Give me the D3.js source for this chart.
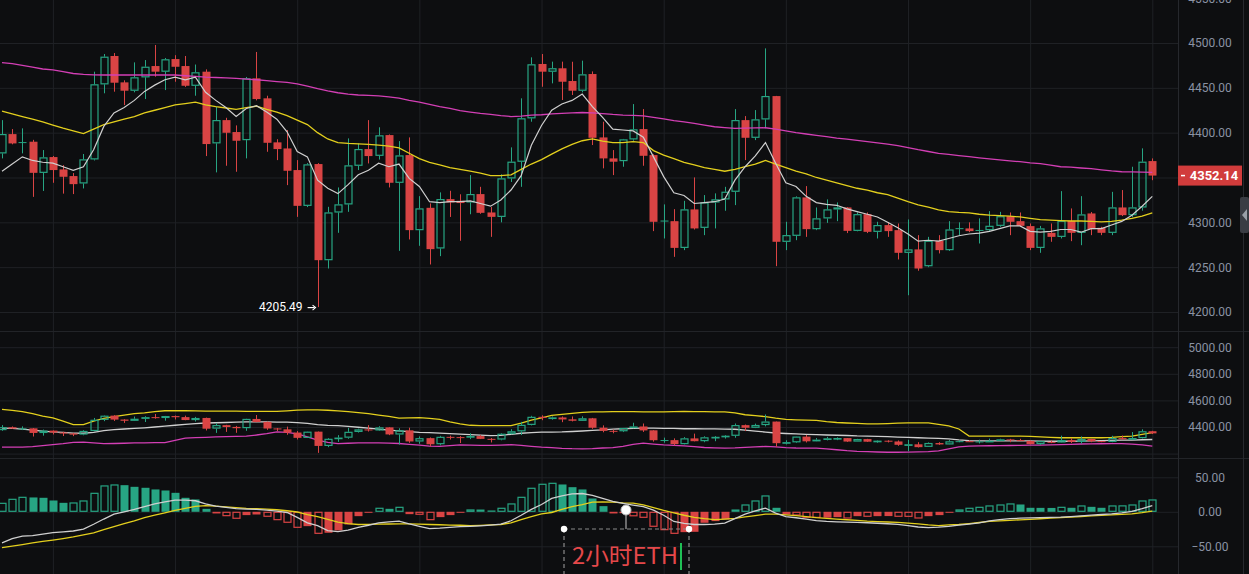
<!DOCTYPE html>
<html><head><meta charset="utf-8">
<script src="https://cdn.jsdelivr.net/npm/d3@7"></script>
<style>html,body{margin:0;padding:0;background:#0d0e10;overflow:hidden}svg{display:block}</style>
</head><body><svg id="c" width="1249" height="574"></svg>
<script>
// ---- DATA ----
// candles: [open, high, low, close]
const candles = [
[4376.9,4414,4371.3,4398.4],[4398.4,4404,4387,4388],[4389.5,4404.8,4376.9,4388.5],[4389.9,4392,4328.4,4355.2],[4355.2,4380.6,4335,4372.4],
[4372.8,4374,4344.1,4358.3],[4359,4363.8,4332,4350.8],[4351.6,4355,4331.5,4342.6],[4343.4,4376.2,4337.8,4370.2],[4370.2,4468,4369,4453.9],
[4453.9,4487.7,4443.9,4484.7],[4485.5,4488.8,4445.7,4455.7],[4456.1,4458.4,4430.8,4446.8],[4446.8,4478.4,4445,4461.7],[4461.7,4481,4437.5,4473.5],
[4474.3,4497.8,4462.4,4468],[4468,4483.3,4447.5,4481.8],[4482.1,4486.4,4456.8,4473.5],[4474.3,4485.5,4451,4452.3],[4452.3,4476,4441.2,4467.3],
[4468,4470.6,4373.9,4387.3],[4388.1,4428.9,4355.7,4414],[4414,4416.6,4363.1,4399.9],[4400.7,4408.1,4356.4,4391],[4391.7,4462.1,4371.3,4460.6],
[4460.6,4490,4436,4437.5],[4438.3,4441.2,4378.7,4388.7],[4389.2,4392.7,4369.4,4381.7],[4382.4,4402.9,4341.5,4357.5],[4358.3,4369.4,4306.1,4318.4],
[4318.4,4366,4317,4364.6],[4365,4366,4205.49,4257.8],[4257.8,4317.3,4248.5,4311],[4311,4338.9,4288.3,4320],[4320,4393.6,4311.7,4363.5],
[4363.1,4388,4358.3,4381.7],[4381.7,4414,4365.7,4373.9],[4374.2,4406,4370,4397],[4397.3,4398,4338.9,4344.1],[4344.1,4390.6,4268.2,4374.6],
[4375,4394.7,4280.9,4291.3],[4291.3,4329.2,4273.8,4315.5],[4316.2,4321.1,4253,4270.1],[4270.9,4333.4,4262.3,4325.9],[4325.9,4335.2,4306,4322.2],
[4324,4331.3,4279.4,4321.5],[4322.2,4352.7,4309,4331.5],[4331.5,4339.6,4309.5,4310.6],[4311,4317,4283.8,4306.1],[4306.1,4353.5,4300,4349],
[4349,4383.6,4345,4367.6],[4367.6,4438.3,4339.6,4416],[4416,4484,4412.2,4476.2],[4476.6,4487.7,4451.2,4468],[4468,4479.2,4455,4471.8],
[4471.8,4479.2,4436.4,4456.8],[4457.6,4479.1,4442,4446.8],[4446.8,4480.3,4445,4465],[4465.4,4468.3,4386.2,4394.3],[4394.7,4412.2,4360.2,4371.3],
[4371.3,4380.6,4352.7,4367.6],[4368.3,4393,4362,4392.5],[4392.5,4431.9,4391,4403.7],[4404,4426.3,4363.1,4374.2],[4375,4376,4290.2,4300.6],
[4302,4320,4282,4301],[4301.3,4314.7,4261.5,4271.5],[4271.5,4324,4269,4314.4],[4314.4,4350.1,4292,4293.2],[4293.9,4330.4,4285.7,4322.2],
[4322.2,4332.3,4293.2,4325.6],[4325.6,4339.6,4312.9,4334.1],[4334.1,4426.3,4319.2,4414],[4414,4418.5,4369.4,4394.3],[4394.3,4425.2,4391.7,4414.8],
[4414.8,4494,4404.8,4440.8],[4440.8,4441,4251.1,4278.3],[4278.3,4300.6,4269,4285.7],[4285,4329,4280.1,4327.8],[4327.8,4340.4,4283.8,4292.4],
[4292.4,4316.6,4291.3,4304.4],[4304.4,4325.6,4299.4,4314.4],[4314.4,4322.2,4301.3,4316.6],[4316.6,4317,4288,4290.5],[4290.5,4311,4290,4309.1],
[4309.1,4311,4288,4289.4],[4289.4,4300.6,4282,4296.9],[4296.9,4300,4283.8,4290.2],[4291.3,4298.7,4258.6,4266],[4266,4303.2,4218.7,4269.8],
[4269.8,4285.7,4246,4248.5],[4251.1,4283.8,4250,4279.4],[4279.4,4285.7,4265.3,4269],[4269,4301.3,4268,4292],[4293.5,4300,4285.7,4293],
[4293.2,4300,4289,4290.2],[4291.5,4304.4,4276.4,4291],[4291.3,4312.5,4290,4296.1],[4296.1,4311.7,4295,4306.8],[4306.8,4311,4285.7,4300.6],
[4301.3,4311,4295,4296.1],[4295.8,4298.7,4269,4271.5],[4271.5,4296,4266,4293.2],[4288.3,4298.7,4278.3,4283.8],[4283.8,4334.8,4282,4301.7],
[4301.7,4315.5,4279,4288.3],[4288.3,4329.2,4274.5,4308.8],[4309.9,4311.5,4285.7,4292.4],[4293.9,4295,4285.7,4288.3],[4288.3,4334,4285.7,4316.6],
[4316.6,4336,4307,4308],[4308,4362,4306,4316.6],[4316.6,4382.5,4313,4367.6],[4368.3,4371.3,4347,4352.14]
];
const maShort = [4357,4365,4373,4369,4367,4366,4362,4358,4362,4381,4407,4422,4428,4436,4446,4453,4459,4462,4459,4462,
4445,4436,4428,4418,4427,4430,4423,4415,4401,4379,4373,4347,4338,4332,4342,4353,4358,4366,4362,4365,
4349,4340,4323,4322,4323,4323,4324,4321,4318,4325,4336,4352,4386,4408,4425,4432,4436,4443,4429,4417,
4404,4403,4402,4395,4373,4351,4333,4330,4321,4322,4323,4326,4347,4362,4374,4389,4366,4344,4340,4329,
4322,4320,4319,4315,4312,4309,4306,4300,4294,4287,4279,4280,4279,4282,4285,4287,4288,4290,4293,4296,
4296,4290,4289,4290,4292,4292,4289,4293,4293,4297,4301,4308,4318,4329];
const maMid = [4424,4421,4418,4415,4412,4408.5,4405,4402,4399,4404,4409,4412,4415,4418,4422,4425,4428,4431,4432.5,4434,
4431,4429,4427.5,4426,4428,4429.5,4426,4423,4419,4414,4409,4400,4393,4389,4388,4387.5,4387,4386,4385,4383,
4377,4371,4367,4364,4361,4359,4357,4355,4352,4352,4353,4359,4365,4370,4376,4382,4387,4391,4393,4390.5,
4389,4389,4390,4389,4380,4375,4371,4367,4364,4361,4359,4357,4359,4362,4365,4369,4365,4361,4357,4354,
4350,4347,4344,4341,4338,4336,4333,4331,4327,4323,4319.5,4317,4314,4312,4311,4310.5,4309,4308,4307.5,4307,
4306,4304.5,4303,4302.5,4302,4301.5,4301.5,4301,4300.5,4301,4302.5,4304.5,4307,4310.5];
const maLong = [4478,4477,4475,4473,4471,4470,4468,4466,4465,4464.5,4464.3,4464.3,4464.3,4464.3,4464.3,4464.3,4464.3,4464.3,4463.5,4462.8,
4462,4461.5,4461,4460.5,4459.7,4459,4458,4457,4456,4454.5,4452,4449,4446.5,4444.5,4443,4442,4441.5,4441,4440,4438.5,
4436,4434,4431.5,4429,4427,4424.5,4423,4421.5,4420.5,4419,4418,4418.5,4419.5,4420,4421,4421.5,4422,4422.5,4422,4421.3,
4420.3,4419.6,4419.2,4418.8,4417,4415.3,4413.5,4412,4410.3,4408.4,4406.6,4405.6,4404.8,4405,4405.3,4405.5,4404,4402,4400,4398.5,
4397,4395.5,4394,4392.8,4391.3,4390,4388.5,4387.2,4385.5,4383.3,4381,4379,4377,4375.8,4374.5,4373.2,4372,4370.8,4369.7,4368.6,
4367.6,4366.3,4365.5,4363.8,4362,4361.5,4360.6,4359.8,4358.5,4357.3,4356.4,4356.2,4356,4355.7];
const bollUpper = [4533,4525,4516,4500,4482,4469,4445,4418,4418,4445,4465,4478,4490,4500,4506,4515,4522,4522,4522,4521,
4520,4520,4519,4519,4518,4518,4517,4517,4522,4527,4529,4529,4526,4522,4516,4508,4500,4490,4480,4466,
4468,4470,4465,4457,4438,4424,4413,4410,4410,4410,4410,4430,4452,4468,4488,4495,4502,4510,4514,4514,
4515,4516,4515,4514,4514,4514,4516,4517,4516,4515,4514,4514,4506,4492,4485,4478,4466,4457,4454,4452,
4450,4441,4434,4430,4427,4424,4423,4426,4429,4431,4431,4431,4420,4408,4385,4332,4332,4332,4332,4332,
4332,4330,4326,4322,4319,4319,4319,4319,4319,4322,4327,4332,4345,4358];
const bollMid = [4392,4389,4384,4377,4369,4364,4359,4354,4353,4360,4373,4380,4385,4389,4394,4400,4406,4413,4420,4426,
4430,4432,4434,4436,4438,4439,4438,4437,4436,4433,4428,4418,4412,4410,4404,4398,4392,4384,4376,4371,
4365,4360,4357,4354,4350,4347,4343,4339,4335,4337,4345,4353,4358,4361,4362,4363,4366,4370,4374,4378,
4384,4387,4390,4391,4391,4390,4389,4387,4387,4386,4386,4384,4383,4376,4369,4362,4355,4351,4348,4345,
4342,4340,4338,4336,4333,4332,4330,4327,4324,4322,4319,4316,4314,4310,4303,4298,4296,4296,4296,4296,
4296,4295,4294,4293,4293,4293,4294,4296,4298,4299,4301,4302,4304,4306];
const bollLower = [4249,4249,4249,4252,4260,4267,4275,4285,4287,4281,4275,4276,4278,4280,4281,4282,4283,4300,4316,4320,
4322,4325,4327,4330,4332,4340,4350,4364,4360,4348,4325,4301,4285,4275,4278,4280,4280,4280,4279,4276,
4270,4264,4256,4254,4260,4266,4264,4262,4262,4264,4267,4262,4255,4249,4245,4240,4237,4236,4238,4242,
4245,4255,4270,4278,4272,4266,4262,4258,4252,4246,4243,4241,4243,4247,4251,4254,4250,4245,4242,4241,
4241,4236,4229,4222,4217,4215,4212,4210,4210,4211,4213,4215,4220,4235,4250,4256,4258,4259,4260,4261,
4262,4263,4264,4266,4268,4270,4272,4273,4274,4275,4275,4272,4265,4256];
const macdDif = [-45,-39,-35.2,-34.4,-32.5,-30.3,-29,-27.8,-25,-18,-10.5,-3.5,0,3.5,7.5,11.5,14.3,16.8,16.8,16,
11.5,8.3,6.3,4.5,3.9,3.5,2.5,0.9,-1,-8,-16,-20,-27.3,-28.8,-26.5,-22.5,-19.5,-16,-14.7,-13.6,
-17.5,-21,-24.4,-23.8,-22.7,-21.6,-21.1,-20.3,-19.2,-17.8,-13,-5,3.5,10.6,19.5,23,26,26.5,23.8,19.5,
15,12.3,9.8,7.5,2.5,-5,-14,-16.8,-18.4,-18.4,-17.8,-16.5,-9.8,-3.5,1.5,5.3,-2,-7,-8.6,-10.5,
-12.7,-13.8,-14.5,-15,-15.4,-15.9,-16.6,-17.3,-18.2,-20,-22,-23,-22.2,-21,-19.2,-17.8,-16.2,-13.3,-11.2,-9.9,
-9.3,-8.7,-8.4,-8.1,-7.8,-6.9,-5.8,-4.8,-3.9,-3,-1.5,0.7,4.5,9];
const macdDea = [-52,-49.8,-47.5,-45,-43,-41,-38.8,-36.5,-33.5,-30.5,-26,-21.5,-17,-13,-8.5,-4.9,-1.5,2,5,8,
9,8.1,7,6,5,4.5,3.8,3,1.5,-0.3,-4,-7,-11,-15,-17,-18.4,-18.2,-18,-17.7,-17.4,
-17.6,-18,-18.4,-18.8,-19.2,-19.5,-19.9,-19.6,-19,-18.4,-16,-11.2,-7,-3,-1,3.5,7.5,10.5,14,14.5,
14,13,12.5,10,6,2,-1.5,-5,-8,-10,-11.2,-10.5,-9.5,-7.5,-5.5,-3.5,-3.5,-4.5,-5.5,-7,
-8.5,-9.5,-10.5,-11.5,-12.5,-13.6,-14.2,-14.8,-15.4,-16.3,-17.5,-19,-19.9,-19,-18.4,-17,-15.5,-14,-13.1,-12.3,
-11.6,-11,-10.1,-9.3,-8.5,-7.7,-6.8,-6,-5.3,-4.5,-3.7,-2.9,-1.2,0.9];
const macdHist = [13.0,18.8,21.7,20.8,20.3,16.4,13.0,13.5,16.4,27.5,
38.2,39.6,38.6,36.2,34.8,32.4,30.9,27.5,20.3,17.9,
4.3,-2.4,-6.3,-10.1,-4.8,-3.9,-7.2,-12.1,-15.9,-23.2,
-20.8,-31.9,-30.4,-27.0,-18.4,-6.3,-1.4,5.8,4.3,7.2,
-3.4,-4.3,-12.1,-7.7,-4.8,-1.4,3.4,3.3,1.9,5.8,
12.1,21.7,34.8,40.6,42.0,39.6,35.7,32.4,19.3,8.2,
-2.4,-2.0,-6.5,-8.7,-21.7,-26.6,-31.9,-29.5,-29.0,-15.9,
-13.5,-11.1,3.4,10.6,16.4,23.7,5.8,-3.9,-5.3,-8.7,
-8.8,-8.6,-7.7,-9.7,-6.3,-7.2,-6.3,-6.2,-7.2,-7.3,
-9.7,-6.3,-4.8,-1.4,3.4,5.8,7.2,9.2,10.6,12.1,
10.6,5.8,5.7,5.6,7.2,5.8,9.2,7.2,5.8,9.2,
9.3,10.6,16.4,17.9];
const priceTicks = [4200,4250,4300,4350,4400,4450,4500,4550];
const priceLabels = [4200,4250,4300,4400,4450,4500,4550];
const bollTicks = [4200,4400,4600,4800,5000];
const bollLabels = [4400,4600,4800,5000];
const macdTicks = [-50,0,50];
const lastPrice = 4352.14;
const lowPrice = 4205.49;
const lowIndex = 31;
const noteText = "2小时ETH";

// ---- DRAW ----
const W = 1249, H = 574, plotRight = 1178;
const GREEN = "#27a583", RED = "#d94444", GRID = "#1f2125", AXIS_TXT = "#8a92a3";
const svg = d3.select("#c");
svg.append("rect").attr("width", W).attr("height", H).attr("fill", "#0d0e10");

const x = d3.scaleLinear().domain([0, candles.length - 1]).range([2, 1152.3]);
const yMain = d3.scaleLinear().domain([4200, 4500]).range([312, 43]);
const yBoll = d3.scaleLinear().domain([4400, 4600]).range([427, 400.4]);
const yMacd = d3.scaleLinear().domain([-50, 50]).range([546.3, 477.3]);

const defs = svg.append("defs");
function clip(id, y0, y1) {
  defs.append("clipPath").attr("id", id).append("rect").attr("x", 0).attr("y", y0).attr("width", plotRight).attr("height", y1 - y0);
}
clip("cMain", 0, 331); clip("cBoll", 333, 458); clip("cMacd", 460, 574);

// vertical grid
const vTicks = d3.range(5, candles.length, 12);
svg.append("g").attr("transform", `translate(0,${H})`)
  .call(d3.axisBottom(x).tickValues(vTicks).tickSize(-H).tickFormat(""))
  .call(g => g.select(".domain").remove())
  .call(g => g.selectAll("line").attr("stroke", GRID).attr("stroke-width", 1));

// horizontal grids
function hgrid(scale, ticks) {
  svg.append("g").call(d3.axisLeft(scale).tickValues(ticks).tickSize(-plotRight).tickFormat(""))
    .call(g => g.select(".domain").remove())
    .call(g => g.selectAll("line").attr("stroke", GRID).attr("stroke-width", 1));
}
hgrid(yMain, priceTicks); hgrid(yBoll, bollTicks); hgrid(yMacd, macdTicks);

// panel separators & axis borders
svg.append("line").attr("x1", 0).attr("x2", W).attr("y1", 331.5).attr("y2", 331.5).attr("stroke", "#222428");
svg.append("line").attr("x1", 0).attr("x2", W).attr("y1", 458.5).attr("y2", 458.5).attr("stroke", "#222428");
svg.append("line").attr("x1", plotRight + 0.5).attr("x2", plotRight + 0.5).attr("y1", 0).attr("y2", H).attr("stroke", "#26282d");
svg.append("line").attr("x1", 1243.5).attr("x2", 1243.5).attr("y1", 0).attr("y2", H).attr("stroke", "#26282d");

// axis labels
function axisLabels(scale, ticks) {
  const g = svg.append("g").attr("transform", `translate(1210,0)`)
    .call(d3.axisRight(scale).tickValues(ticks).tickSize(0).tickPadding(0).tickFormat(d3.format(".2f")));
  g.select(".domain").remove();
  g.selectAll("text").attr("fill", AXIS_TXT).attr("font-family", "Roboto, sans-serif")
    .attr("font-size", 12).attr("text-anchor", "middle").attr("x", 0);
}
axisLabels(yMain, priceLabels); axisLabels(yBoll, bollLabels); axisLabels(yMacd, macdTicks);

// candles
function drawCandles(yS, clipId, bw) {
  const g = svg.append("g").attr("clip-path", `url(#${clipId})`);
  candles.forEach((d, i) => {
    const [o, h, l, c] = d;
    const prev = i > 0 ? candles[i - 1][3] : o;
    const up = c >= prev;
    const col = up ? GREEN : RED;
    const hollow = c > o;
    const cx = Math.round(x(i)) + 0.5;
    const top = yS(Math.max(o, c)), bot = yS(Math.min(o, c));
    const bh = Math.max(1, bot - top);
    if (hollow) {
      g.append("line").attr("x1", cx).attr("x2", cx).attr("y1", yS(h)).attr("y2", top).attr("stroke", col);
      g.append("line").attr("x1", cx).attr("x2", cx).attr("y1", top + bh).attr("y2", yS(l)).attr("stroke", col);
      g.append("rect").attr("x", cx - bw / 2 + 0.5).attr("y", top + 0.5).attr("width", bw - 1).attr("height", Math.max(0.5, bh - 1))
        .attr("fill", "none").attr("stroke", col).attr("stroke-width", 1.2);
    } else {
      g.append("line").attr("x1", cx).attr("x2", cx).attr("y1", yS(h)).attr("y2", yS(l)).attr("stroke", col);
      g.append("rect").attr("x", cx - bw / 2).attr("y", top).attr("width", bw).attr("height", bh).attr("fill", col);
    }
  });
  return g;
}
function drawLine(g, yS, arr, color, w) {
  g.append("path").datum(arr).attr("fill", "none").attr("stroke", color).attr("stroke-width", w)
    .attr("d", d3.line().x((d, i) => x(i)).y(d => yS(d)));
}

drawCandles(yMain, "cMain", 8);
const gMainLines = svg.append("g").attr("clip-path", "url(#cMain)");
drawLine(gMainLines, yMain, maLong, "#d33fb5", 1.3);
drawLine(gMainLines, yMain, maMid, "#e3cf1d", 1.3);
drawLine(gMainLines, yMain, maShort, "#cfcfcf", 1.2);

// Boll panel
const gBollLines = svg.append("g").attr("clip-path", "url(#cBoll)");
drawLine(gBollLines, yBoll, bollUpper, "#e3cf1d", 1.3);
drawLine(gBollLines, yBoll, bollMid, "#cfcfcf", 1.3);
drawLine(gBollLines, yBoll, bollLower, "#d33fb5", 1.3);
drawCandles(yBoll, "cBoll", 8);

// MACD panel
const gM = svg.append("g").attr("clip-path", "url(#cMacd)");
macdHist.forEach((v, i) => {
  const prev = i > 0 ? macdHist[i - 1] : 0;
  const col = v >= 0 ? GREEN : RED;
  const hollow = Math.abs(v) > Math.abs(prev);
  const cx = Math.round(x(i)) + 0.5;
  const y0 = yMacd(0), y1 = yMacd(v);
  const top = Math.min(y0, y1), hgt = Math.max(1, Math.abs(y1 - y0));
  if (hollow) {
    gM.append("rect").attr("x", cx - 3.5).attr("y", top + 0.5).attr("width", 7).attr("height", Math.max(0.5, hgt - 1))
      .attr("fill", "none").attr("stroke", col).attr("stroke-width", 1.2);
  } else {
    gM.append("rect").attr("x", cx - 4).attr("y", top).attr("width", 8).attr("height", hgt).attr("fill", col);
  }
});
drawLine(gM, yMacd, macdDea, "#e3cf1d", 1.3);
drawLine(gM, yMacd, macdDif, "#cfcfcf", 1.3);

// low label
const lowY = yMain(lowPrice);
const lx = x(lowIndex);
svg.append("text").attr("x", lx - 15).attr("y", lowY + 4.2).attr("text-anchor", "end")
  .attr("fill", "#ffffff").attr("font-family", "Roboto, sans-serif").attr("font-size", 12)
  .text(d3.format(".2f")(lowPrice));
svg.append("line").attr("x1", lx - 10).attr("x2", lx - 3).attr("y1", lowY + 0.5).attr("y2", lowY + 0.5).attr("stroke", "#fff").attr("stroke-width", 1.2);
svg.append("path").attr("d", `M${lx - 5},${lowY - 2} L${lx - 2},${lowY + 0.5} L${lx - 5},${lowY + 3}`).attr("fill", "none").attr("stroke", "#fff").attr("stroke-width", 1.1);

// last price label
const lpY = yMain(lastPrice);
svg.append("rect").attr("x", 1178).attr("y", lpY - 10).attr("width", 64).attr("height", 20).attr("fill", "#d13c3c");
svg.append("line").attr("x1", 1181).attr("x2", 1185).attr("y1", lpY).attr("y2", lpY).attr("stroke", "#fff").attr("stroke-width", 1.5);
svg.append("text").attr("x", 1214).attr("y", lpY + 4.5).attr("text-anchor", "middle").attr("fill", "#fff")
  .attr("font-family", "Roboto, sans-serif").attr("font-weight", "bold").attr("font-size", 13).text(d3.format(".2f")(lastPrice));

// right edge handle
svg.append("rect").attr("x", 1240).attr("y", 197).attr("width", 9).attr("height", 36).attr("rx", 2).attr("fill", "#3a3d44");
svg.append("path").attr("d", "M1247,209 L1242,215 L1247,221 Z").attr("fill", "#9aa0a8");

// annotation in MACD panel
const ann = svg.append("g");
ann.append("line").attr("x1", 564).attr("x2", 689).attr("y1", 529).attr("y2", 529).attr("stroke", "#8a8a8a").attr("stroke-dasharray", "4,3").attr("stroke-width", 1.2);
ann.append("line").attr("x1", 564).attr("x2", 564).attr("y1", 529).attr("y2", 574).attr("stroke", "#8a8a8a").attr("stroke-dasharray", "4,3").attr("stroke-width", 1.2);
ann.append("line").attr("x1", 689).attr("x2", 689).attr("y1", 529).attr("y2", 574).attr("stroke", "#8a8a8a").attr("stroke-dasharray", "4,3").attr("stroke-width", 1.2);
ann.append("line").attr("x1", 626).attr("x2", 626).attr("y1", 510).attr("y2", 529).attr("stroke", "#aaaaaa").attr("stroke-width", 1.2);
ann.append("circle").attr("cx", 626).attr("cy", 510).attr("r", 5).attr("fill", "#ffffff").attr("stroke", "#bbb");
ann.append("circle").attr("cx", 564).attr("cy", 529).attr("r", 3.2).attr("fill", "#ffffff");
ann.append("circle").attr("cx", 689).attr("cy", 529).attr("r", 3.2).attr("fill", "#ffffff");
ann.append("text").attr("x", 572).attr("y", 564).attr("fill", "#e5484a").attr("font-family", "'Noto Sans CJK SC', sans-serif")
  .attr("font-size", 23).attr("textLength", 106).attr("lengthAdjust", "spacingAndGlyphs").text(noteText);
ann.append("rect").attr("x", 680).attr("y", 543).attr("width", 2).attr("height", 27).attr("fill", "#1fbf55");
</script></body></html>
